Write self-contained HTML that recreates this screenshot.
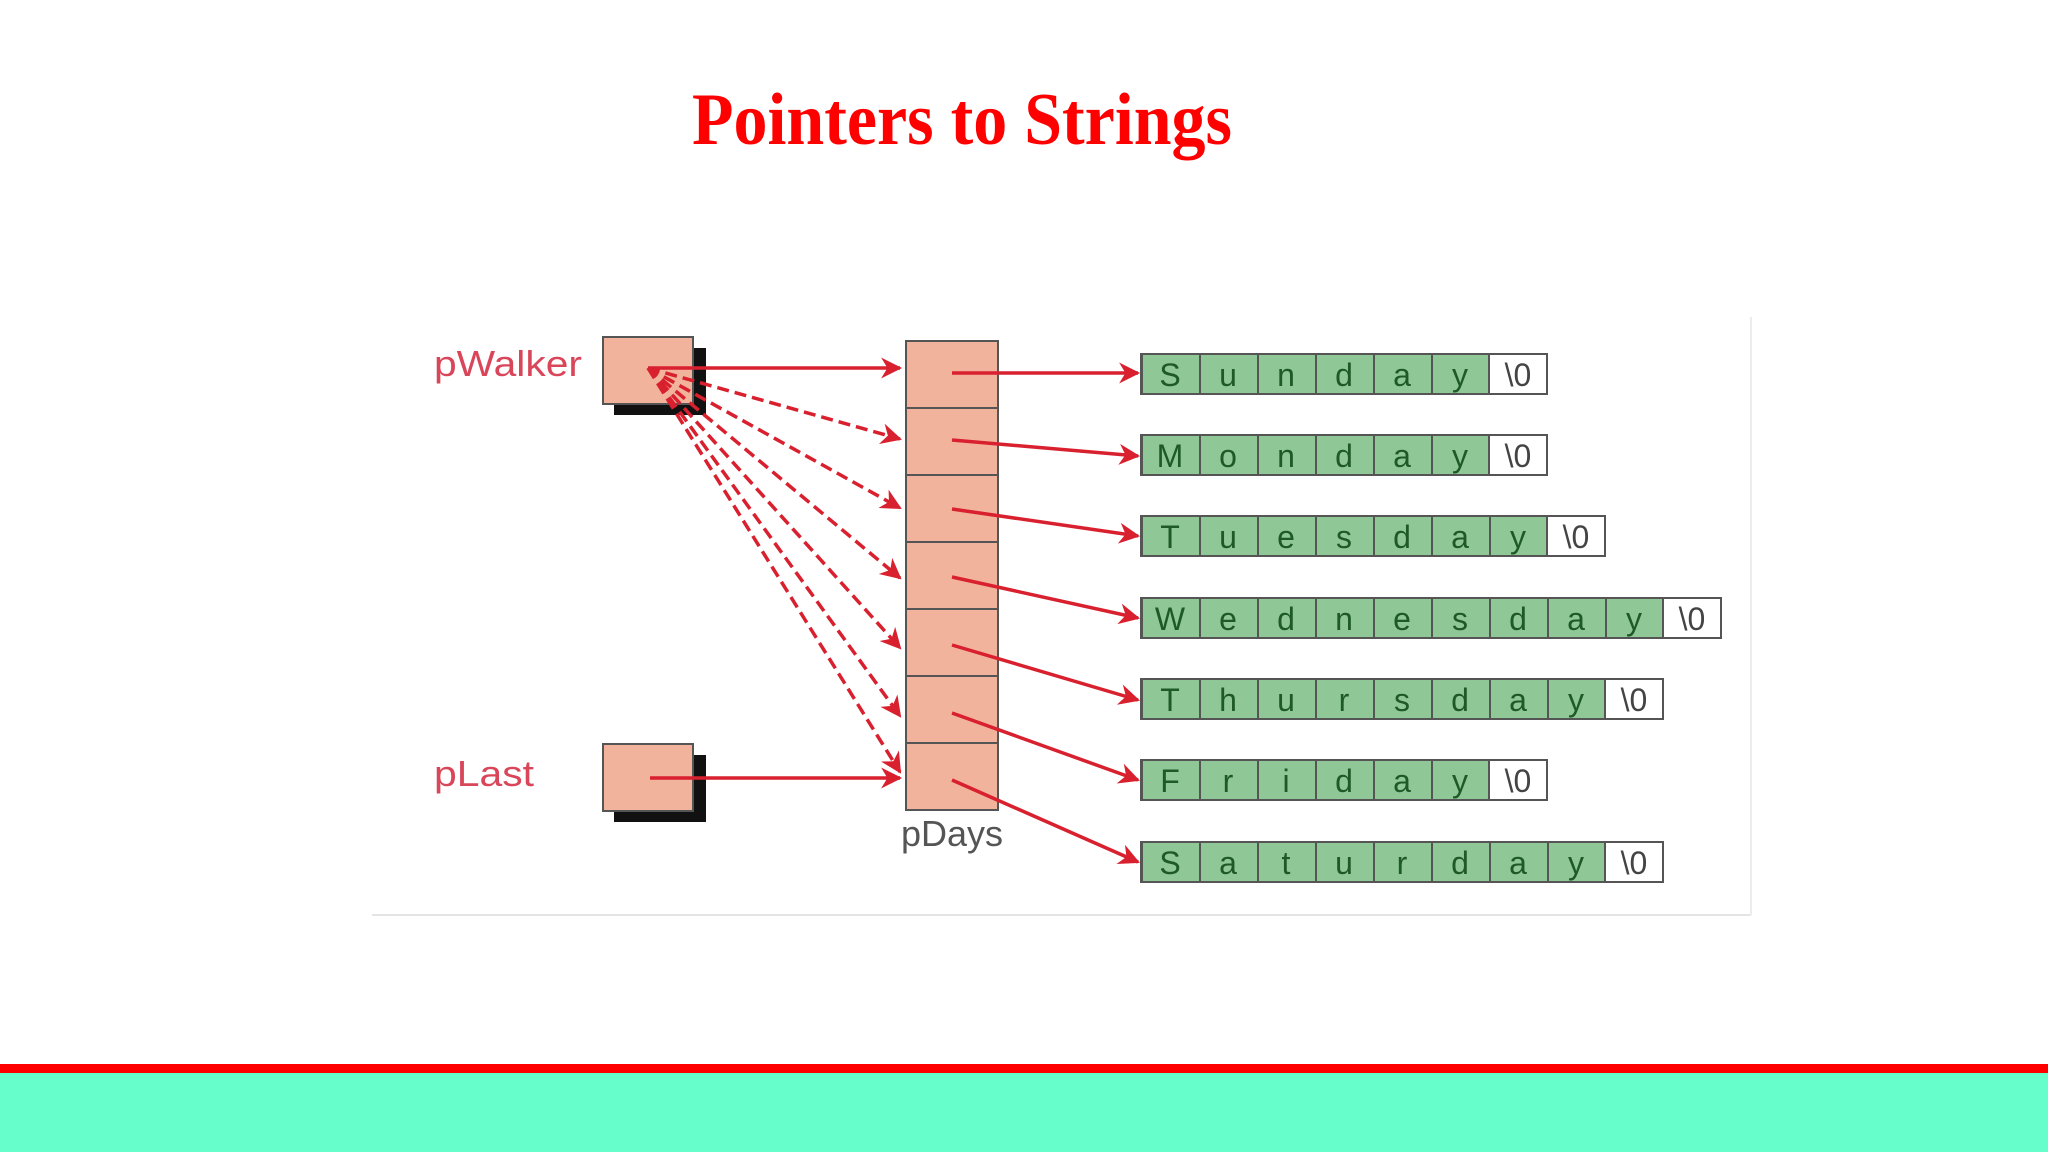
<!DOCTYPE html>
<html><head><meta charset="utf-8"><style>
html,body{margin:0;padding:0;background:#fff;}
svg{display:block}
</style></head><body>
<svg width="2048" height="1152" viewBox="0 0 2048 1152" xmlns="http://www.w3.org/2000/svg" font-family="Liberation Sans, sans-serif">
<defs>
<marker id="ah" viewBox="0 0 10 10" refX="9" refY="5" markerWidth="9" markerHeight="6" markerUnits="strokeWidth" orient="auto">
<path d="M0,0 L10,5 L0,10 L3,5 z" fill="#d9202e"/>
</marker>
<pattern id="cells" patternUnits="userSpaceOnUse" x="1141" y="0" width="58" height="10">
<rect x="0" y="0" width="58" height="10" fill="#8fc796"/>
<rect x="0" y="0" width="2" height="10" fill="#555"/>
</pattern>
</defs>
<text x="962" y="144" text-anchor="middle" font-family="Liberation Serif, serif" font-weight="bold" font-size="74" fill="#ff0000" textLength="540" lengthAdjust="spacingAndGlyphs">Pointers to Strings</text>

<line x1="372" y1="915" x2="1751" y2="915" stroke="#e4e4e4" stroke-width="2"/>
<line x1="1751" y1="317" x2="1751" y2="915" stroke="#ececec" stroke-width="2"/>

<text x="434" y="376" font-size="36" fill="#d9465a" textLength="148" lengthAdjust="spacingAndGlyphs">pWalker</text>
<text x="434" y="786" font-size="36" fill="#d9465a" textLength="100" lengthAdjust="spacingAndGlyphs">pLast</text>
<text x="952" y="846" font-size="36" fill="#555" text-anchor="middle">pDays</text>

<rect x="614" y="348" width="92" height="67" fill="#111"/>
<rect x="603" y="337" width="90" height="67" fill="#f2b39c" stroke="#555" stroke-width="2"/>
<rect x="614" y="755" width="92" height="67" fill="#111"/>
<rect x="603" y="744" width="90" height="67" fill="#f2b39c" stroke="#555" stroke-width="2"/>

<g fill="#f2b39c" stroke="#555" stroke-width="2">
<rect x="906" y="341" width="92" height="67"/>
<rect x="906" y="408" width="92" height="67"/>
<rect x="906" y="475" width="92" height="67"/>
<rect x="906" y="542" width="92" height="67"/>
<rect x="906" y="609" width="92" height="67"/>
<rect x="906" y="676" width="92" height="67"/>
<rect x="906" y="743" width="92" height="67"/>
</g>

<g stroke="#d9202e" stroke-width="3.5" fill="none" marker-end="url(#ah)">
<line x1="648" y1="368" x2="900" y2="368"/>
<line x1="648" y1="368" x2="900" y2="439" stroke-dasharray="12,6"/>
<line x1="648" y1="368" x2="900" y2="508" stroke-dasharray="12,6"/>
<line x1="648" y1="368" x2="900" y2="578" stroke-dasharray="12,6"/>
<line x1="648" y1="368" x2="900" y2="648" stroke-dasharray="12,6"/>
<line x1="648" y1="368" x2="900" y2="716" stroke-dasharray="12,6"/>
<line x1="648" y1="368" x2="900" y2="772" stroke-dasharray="12,6"/>
<line x1="650" y1="778" x2="900" y2="778"/>
<line x1="952" y1="373" x2="1138" y2="373"/>
<line x1="952" y1="440" x2="1138" y2="456"/>
<line x1="952" y1="509" x2="1138" y2="536"/>
<line x1="952" y1="577" x2="1138" y2="618"/>
<line x1="952" y1="645" x2="1138" y2="700"/>
<line x1="952" y1="713" x2="1138" y2="780"/>
<line x1="952" y1="780" x2="1138" y2="862"/>
</g>

<g stroke="#555" stroke-width="2">
<rect x="1141" y="354" width="348" height="40" fill="url(#cells)"/><rect x="1489" y="354" width="58" height="40" fill="#fff"/>
<rect x="1141" y="435" width="348" height="40" fill="url(#cells)"/><rect x="1489" y="435" width="58" height="40" fill="#fff"/>
<rect x="1141" y="516" width="406" height="40" fill="url(#cells)"/><rect x="1547" y="516" width="58" height="40" fill="#fff"/>
<rect x="1141" y="598" width="522" height="40" fill="url(#cells)"/><rect x="1663" y="598" width="58" height="40" fill="#fff"/>
<rect x="1141" y="679" width="464" height="40" fill="url(#cells)"/><rect x="1605" y="679" width="58" height="40" fill="#fff"/>
<rect x="1141" y="760" width="348" height="40" fill="url(#cells)"/><rect x="1489" y="760" width="58" height="40" fill="#fff"/>
<rect x="1141" y="842" width="464" height="40" fill="url(#cells)"/><rect x="1605" y="842" width="58" height="40" fill="#fff"/>
</g>

<g font-size="32" text-anchor="middle" fill="#1e5a28">
<text x="1170 1228 1286 1344 1402 1460" y="386">Sunday</text>
<text x="1170 1228 1286 1344 1402 1460" y="467">Monday</text>
<text x="1170 1228 1286 1344 1402 1460 1518" y="548">Tuesday</text>
<text x="1170 1228 1286 1344 1402 1460 1518 1576 1634" y="630">Wednesday</text>
<text x="1170 1228 1286 1344 1402 1460 1518 1576" y="711">Thursday</text>
<text x="1170 1228 1286 1344 1402 1460" y="792">Friday</text>
<text x="1170 1228 1286 1344 1402 1460 1518 1576" y="874">Saturday</text>
</g>
<g font-size="32" text-anchor="middle" fill="#444">
<text x="1518" y="386">\0</text>
<text x="1518" y="467">\0</text>
<text x="1576" y="548">\0</text>
<text x="1692" y="630">\0</text>
<text x="1634" y="711">\0</text>
<text x="1518" y="792">\0</text>
<text x="1634" y="874">\0</text>
</g>

<rect x="0" y="1064" width="2048" height="9" fill="#ff0000"/>
<rect x="0" y="1073" width="2048" height="79" fill="#66ffcc"/>
</svg>
</body></html>
